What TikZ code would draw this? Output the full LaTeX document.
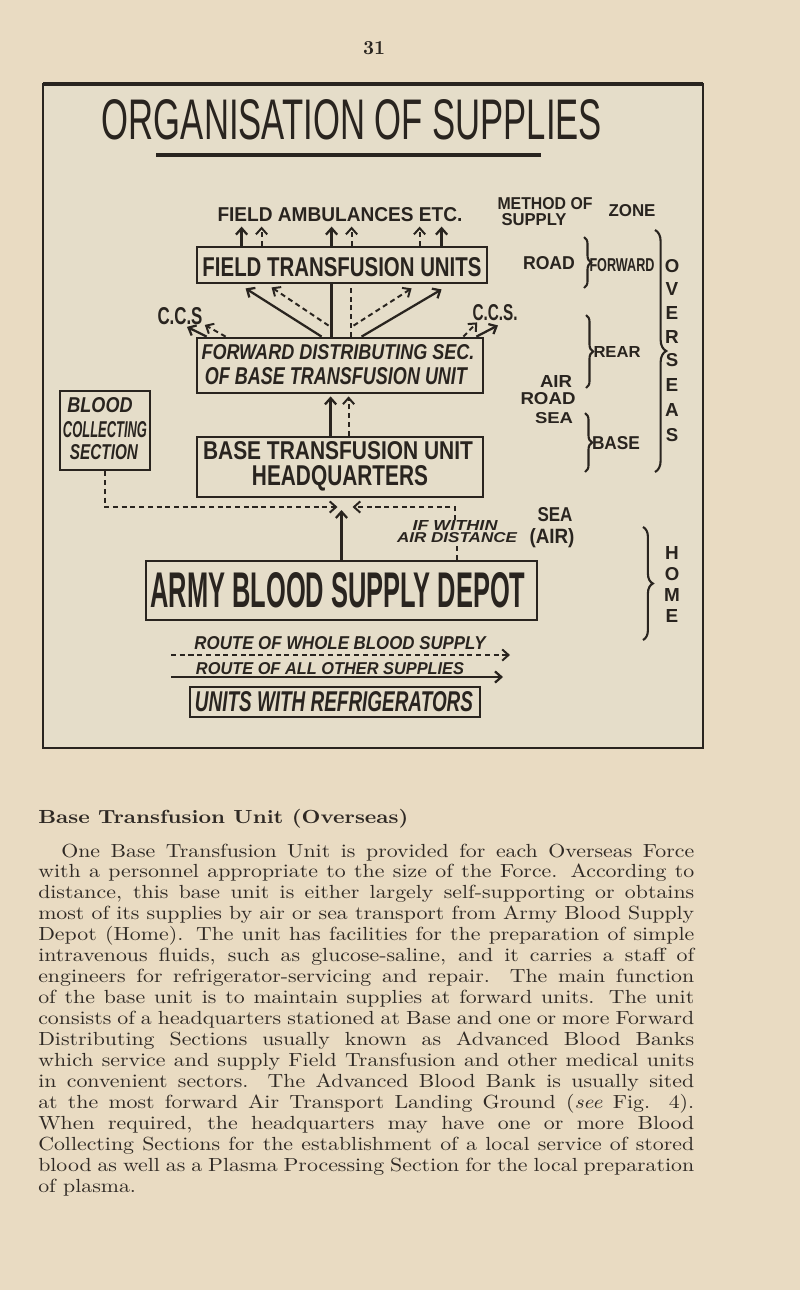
\documentclass[tikz,border=0pt]{standalone}
\usepackage{fontspec}
\usepackage{graphicx}
\usetikzlibrary{arrows.meta, calc, fit, decorations.pathreplacing}
\newfontfamily\handfont{Liberation Sans}
\newfontfamily\bodyfont{lmroman10-regular.otf}[FakeStretch=1.15, BoldFont=lmroman10-bold.otf, ItalicFont=lmroman10-italic.otf]
\definecolor{paper}{HTML}{E9DBC2}
\definecolor{panel}{HTML}{E5DDC9}
\definecolor{ink}{HTML}{29241F}
\definecolor{printink}{HTML}{2F2924}
\newdimen\pxu \pxu=0.025cm
% lettering squeezed into a box of w x h pixels
\newcommand{\hand}[3]{\resizebox{#1\pxu}{#2\pxu}{\handfont\bfseries #3}}
\newcommand{\handsl}[3]{\resizebox{#1\pxu}{#2\pxu}{\handfont\bfseries\itshape #3}}
\newcommand{\letter}[1]{\resizebox{!}{13\pxu}{\handfont\bfseries #1}}
\newcommand{\bodyline}[2]{\makebox[#1\pxu][s]{\bodyfont\fontsize{13.5}{15}\selectfont #2}}

\begin{document}
\begin{tikzpicture}[x=0.025cm, y=-0.025cm,
    lbl/.style={inner sep=0pt, text=ink},
    prose/.style={inner sep=0pt, text=printink, anchor=base west},
    box/.style={draw=ink, line width=2pt, inner sep=0pt},
    solidline/.style={draw=ink, line width=1.6pt},
    dashline/.style={draw=ink, line width=1.4pt, dash pattern=on 3.6pt off 2.6pt},
    solidarr/.style={solidline, -{Straight Barb[length=4.5pt, width=8pt]}},
    dasharr/.style={dashline, -{Straight Barb[length=4.5pt, width=8pt]}},
    curly/.style={draw=ink, line width=1.5pt, decorate, decoration={brace, amplitude=#1}},
    curly/.default=5pt
]
\useasboundingbox (0,0) rectangle (800,1290);
\fill[paper] (0,0) rectangle (800,1290);
\draw[ink, line width=2pt, fill=panel] (43,84) rectangle (703,748);
\draw[ink, line width=3pt] (43,84) -- (703,84);

% page number and title
\node[lbl] (page) at (374,48) {\resizebox{22\pxu}{13\pxu}{\bodyfont\bfseries 31}};
\node[lbl] (title) at (352,120) {\resizebox{500\pxu}{40\pxu}{\handfont ORGANISATION OF SUPPLIES}};
\draw[ink, line width=2.2pt] (156,155) -- (541,155);

% boxes
\node[box, fit={(197,247) (487,283)}] (ftu) {};
\node[box, fit={(197,338) (483,393)}] (fds) {};
\node[box, fit={(197,437) (483,497)}] (btu) {};
\node[box, fit={(60,391) (150,470)}] (bcs) {};
\node[box, fit={(146,561) (537,620)}] (absd) {};
\node[box, fit={(190,687) (480,717)}] (uwr) {};

% lettering
\node[lbl] (fa) at (340,215) {\hand{245}{14}{FIELD AMBULANCES ETC.}};
\node[lbl] (ftut) at (342,267) {\hand{279}{19}{FIELD TRANSFUSION UNITS}};
\node[lbl] (ccsL) at (180,316) {\hand{45}{17}{C.C.S}};
\node[lbl] (ccsR) at (495,313) {\hand{45}{16}{C.C.S.}};
\node[lbl] (fds1) at (338,352) {\handsl{273}{15}{FORWARD DISTRIBUTING SEC.}};
\node[lbl] (fds2) at (336,376) {\handsl{262}{17}{OF BASE TRANSFUSION UNIT}};
\node[lbl] (btu1) at (338,451) {\hand{270}{18}{BASE TRANSFUSION UNIT}};
\node[lbl] (btu2) at (340,478) {\hand{176}{20}{HEADQUARTERS}};
\node[lbl] (bcs1) at (100,405) {\handsl{65}{15}{BLOOD}};
\node[lbl] (bcs2) at (105,430) {\handsl{84}{16}{COLLECTING}};
\node[lbl] (bcs3) at (104,452) {\handsl{68}{15}{SECTION}};
\node[lbl] (iw1) at (455,525) {\handsl{85}{10}{IF WITHIN}};
\node[lbl] (iw2) at (457,538) {\handsl{120}{10}{AIR DISTANCE}};
\node[lbl] (sea1) at (555,515) {\hand{35}{14}{SEA}};
\node[lbl] (air1) at (552,538) {\hand{45}{15}{(AIR)}};
\node[lbl] (absdt) at (338,590) {\hand{375}{35}{ARMY BLOOD SUPPLY DEPOT}};
\node[lbl] (rw) at (340,643) {\handsl{291}{13}{ROUTE OF WHOLE BLOOD SUPPLY}};
\node[lbl] (ro) at (330,669) {\handsl{268}{12}{ROUTE OF ALL OTHER SUPPLIES}};
\node[lbl] (uwrt) at (334,702) {\handsl{278}{20}{UNITS WITH REFRIGERATORS}};

% method of supply and zone
\node[lbl] (mos1) at (545,204) {\hand{95}{12}{METHOD OF}};
\node[lbl] (mos2) at (534,220) {\hand{65}{12}{SUPPLY}};
\node[lbl] (zone) at (632,211) {\hand{47}{12}{ZONE}};
\node[lbl] (road1) at (549,263) {\hand{52}{13}{ROAD}};
\node[lbl] (fwd) at (622,265) {\hand{65}{13}{FORWARD}};
\node[lbl] (rear) at (617,352) {\hand{47}{11}{REAR}};
\node[lbl] (air2) at (556,381) {\hand{32}{12}{AIR}};
\node[lbl] (road2) at (548,399) {\hand{55}{12}{ROAD}};
\node[lbl] (sea2) at (554,418) {\hand{38}{11}{SEA}};
\node[lbl] (base) at (616,443) {\hand{48}{13}{BASE}};
\foreach \ch/\y [count=\i] in {O/266, V/289, E/313, R/337, S/360, E/385, A/410, S/435}
  \node[lbl] (ov\i) at (672,\y) {\letter{\ch}};
\foreach \ch/\y [count=\i] in {H/553, O/574, M/595, E/616}
  \node[lbl] (hm\i) at (672,\y) {\letter{\ch}};

% braces
\draw[curly] (584,237) -- (584,288);
\draw[curly] (586,315) -- (586,388);
\draw[curly] (585,413) -- (585,472);
\draw[curly=8pt] (655,230) -- (655,472);
\draw[curly=7pt] (643,527) -- (643,640);

% up to the field ambulances
\foreach \dx/\kind in {46/solidarr, 66/dasharr, 136/solidarr, 156/dasharr, 224/dasharr, 246/solidarr}
  \draw[\kind, shorten >=3pt] ($(ftu.north west)+(\dx,0)$) coordinate (t) -- (t |- fa.south);

% forward distributing section to field transfusion units
\draw[solidline] ($(fds.north west)+(136,0)$) -- ($(ftu.south west)+(136,0)$);
\draw[dashline] ($(fds.north west)+(155,0)$) -- ($(ftu.south west)+(155,0)$);
\draw[solidarr] ($(fds.north west)+(126,0)$) -- ($(ftu.south west)+(50,4)$);
\draw[dasharr] ($(fds.north west)+(133,-11)$) -- ($(ftu.south west)+(76,3)$);
\draw[dasharr] ($(fds.north west)+(158,-11)$) -- ($(ftu.south west)+(216,4)$);
\draw[solidarr] ($(fds.north west)+(166,0)$) -- ($(ftu.south west)+(246,5)$);

% to the casualty clearing stations
\draw[solidarr] ($(fds.north west)+(11,0)$) -- ($(ccsL.south)+(7,2)$);
\draw[dasharr] ($(fds.north west)+(30,0)$) -- ($(ccsL.south east)+(2,0)$);
\draw[solidarr] ($(fds.north east)+(-8,0)$) -- ($(ccsR.south)+(3,4)$);
\draw[dasharr] ($(fds.north east)+(-21,0)$) -- ($(ccsR.south west)+(5,1)$);

% headquarters to forward section
\draw[solidarr] ($(btu.north west)+(135,0)$) -- ($(fds.south west)+(135,2)$);
\draw[dasharr] ($(btu.north west)+(153,0)$) -- ($(fds.south west)+(153,2)$);

% supplies coming in under the headquarters
\coordinate (hub) at (341.5,507);
\draw[dasharr] (bcs.south) |- ($(hub)+(-4,0)$);
\draw[dasharr] (iw1.north) |- ($(hub)+(11,0)$);
\draw[dashline] (absd.north -| iw2.south) -- (iw2.south);
\draw[solidarr] (absd.north) -- ($(hub)+(0,3)$);

% key
\coordinate (k1a) at (171,655);
\coordinate (k1b) at (510,655);
\coordinate (k2a) at (171,677);
\coordinate (k2b) at (503,677);
\draw[dasharr] (k1a) -- (k1b);
\draw[solidarr] (k2a) -- (k2b);

% text of the page
\node[prose] (hd) at (38,823) {\resizebox{370\pxu}{!}{\bodyfont\bfseries Base Transfusion Unit (Overseas)}};
\node[prose] (l1) at (61,857) {\bodyline{633}{One Base Transfusion Unit is provided for each Overseas Force}};
\foreach \t [count=\i] in {
  {with a personnel appropriate to the size of the Force.  According to},
  {distance, this base unit is either largely self-supporting or obtains},
  {most of its supplies by air or sea transport from Army Blood Supply},
  {Depot (Home).  The unit has facilities for the preparation of simple},
  {intravenous fluids, such as glucose-saline, and it carries a staff of},
  {engineers for refrigerator-servicing and repair.  The main function},
  {of the base unit is to maintain supplies at forward units.  The unit},
  {consists of a headquarters stationed at Base and one or more Forward},
  {Distributing Sections usually known as Advanced Blood Banks},
  {which service and supply Field Transfusion and other medical units},
  {in convenient sectors.  The Advanced Blood Bank is usually sited},
  {at the most forward Air Transport Landing Ground (\textit{see} Fig. 4).},
  {When required, the headquarters may have one or more Blood},
  {Collecting Sections for the establishment of a local service of stored},
  {blood as well as a Plasma Processing Section for the local preparation}}
  \node[prose] (l\i) at (38,{857+\i*20.94}) {\bodyline{656}{\t}};
\node[prose] (lend) at (38,{857+16*20.94}) {\bodyfont\fontsize{13.5}{15}\selectfont of plasma.};
\end{tikzpicture}
\end{document}
